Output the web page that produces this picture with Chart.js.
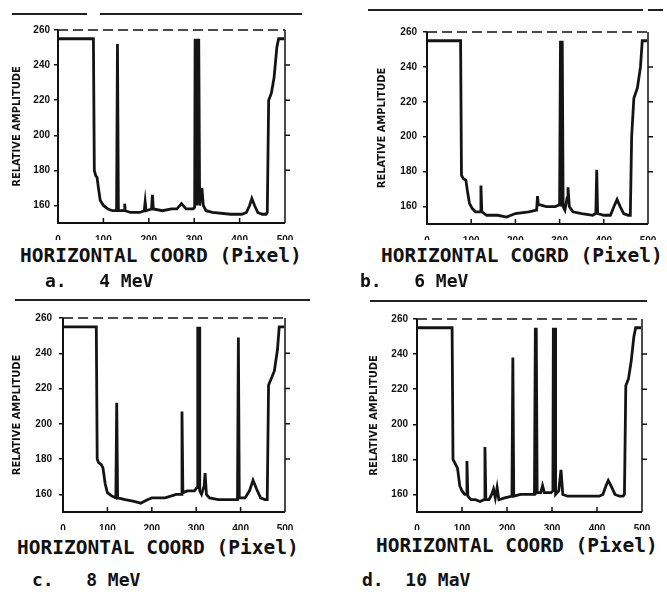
<!DOCTYPE html>
<html>
<head>
<meta charset="utf-8">
<script src="https://cdn.jsdelivr.net/npm/chart.js@4.4.1/dist/chart.umd.min.js"></script>
<style>
  body { margin: 0; background: #fff; }
  #page { position: relative; width: 667px; height: 594px; overflow: hidden; }
  .panel { position: absolute; }
  .txt { position: absolute; font: bold 18px 'DejaVu Sans Mono', monospace; line-height: 18px; white-space: pre; color: #111; }
  .axt { font-size: 19.5px; line-height: 19.5px; }
  .rule { position: absolute; height: 2px; background: #222; }
</style>
</head>
<body>
<div id="page">
  <div class="rule" style="left:12px;top:13px;width:75px"></div>
  <div class="rule" style="left:100px;top:13px;width:202px"></div>
  <div class="rule" style="left:368px;top:9px;width:275px"></div>
  <div class="rule" style="left:648px;top:9px;width:15px"></div>
  <div class="rule" style="left:15px;top:299px;width:295px"></div>
  <div class="rule" style="left:370px;top:300px;width:277px"></div>

  <canvas id="mev4" class="panel" width="333" height="240" style="left:0;top:0"></canvas>
  <canvas id="mev6" class="panel" width="333" height="240" style="left:334px;top:0"></canvas>
  <canvas id="mev8" class="panel" width="333" height="240" style="left:0;top:290px"></canvas>
  <canvas id="mev10" class="panel" width="333" height="240" style="left:334px;top:290px"></canvas>

  <div class="txt axt" style="left:20px;top:246px">HORIZONTAL COORD (Pixel)</div>
  <div class="txt axt" style="left:381px;top:246px">HORIZONTAL COGRD (Pixel)</div>
  <div class="txt axt" style="left:17px;top:538px">HORIZONTAL COORD (Pixel)</div>
  <div class="txt axt" style="left:376px;top:536px">HORIZONTAL COORD (Pixel)</div>

  <div class="txt" style="left:45px;top:272px">a.   4 MeV</div>
  <div class="txt" style="left:360px;top:272px">b.   6 MeV</div>
  <div class="txt" style="left:32px;top:571px">c.   8 MeV</div>
  <div class="txt" style="left:362px;top:571px">d.  10 MaV</div>
</div>
<script>
const yTicks = [160, 180, 200, 220, 240, 260];
const xTicks = [0, 100, 200, 300, 400, 500];

// a. 4 MeV
const x4 = [0, 78, 80, 83, 86, 89, 93, 100, 110, 120, 129, 131, 133, 140, 146, 147, 148, 160, 180, 190, 192, 194, 206, 208, 210, 230, 250, 262, 272, 282, 298, 301, 302, 303, 304, 305, 306, 307, 308, 309, 310, 312, 315, 317, 320, 326, 340, 380, 405, 415, 422, 427, 433, 440, 450, 458, 461, 464, 470, 476, 482, 486, 498];
const y4 = [255, 255, 180, 177, 176, 170, 163, 160, 158, 157, 157, 252, 157, 157, 157, 161, 157, 156, 156, 157, 162, 157, 158, 166, 158, 157, 158, 158, 161, 158, 158, 159, 255, 160, 255, 160, 255, 162, 255, 165, 255, 160, 166, 170, 160, 157, 156, 155, 155, 156, 160, 164, 160, 156, 155, 155, 156, 220, 224, 233, 250, 255, 255];

// b. 6 MeV
const x6 = [0, 76, 78, 82, 88, 92, 96, 102, 110, 120, 122, 124, 135, 160, 180, 200, 230, 248, 250, 252, 256, 270, 290, 300, 302, 304, 306, 308, 312, 317, 319, 322, 330, 350, 375, 382, 384, 386, 400, 415, 423, 430, 437, 445, 455, 460, 463, 468, 476, 483, 487, 498];
const y6 = [255, 255, 178, 176, 175, 168, 162, 159, 157, 157, 172, 157, 155, 155, 154, 156, 157, 158, 166, 161, 161, 160, 160, 161, 255, 160, 255, 160, 158, 165, 171, 160, 157, 156, 155, 156, 181, 156, 155, 155, 160, 164, 160, 156, 155, 155, 200, 222, 228, 240, 255, 255];

// c. 8 MeV
const x8 = [0, 75, 77, 80, 86, 90, 95, 100, 110, 119, 121, 123, 140, 160, 175, 190, 200, 230, 255, 266, 268, 270, 280, 296, 302, 303, 304, 305, 306, 307, 308, 312, 318, 320, 323, 330, 350, 380, 393, 395, 397, 410, 420, 428, 436, 445, 455, 460, 463, 468, 476, 483, 487, 498];
const y8 = [255, 255, 180, 178, 177, 175, 166, 161, 159, 158, 212, 158, 157, 156, 155, 157, 158, 158, 160, 160, 207, 161, 162, 162, 164, 255, 164, 255, 163, 255, 162, 160, 165, 172, 160, 158, 157, 157, 157, 249, 158, 158, 162, 168, 163, 158, 157, 157, 222, 225, 230, 242, 255, 255];

// d. 10 MeV
const x10 = [0, 78, 80, 84, 90, 95, 100, 106, 109, 111, 113, 120, 130, 140, 149, 151, 153, 160, 166, 170, 174, 178, 182, 195, 211, 213, 215, 230, 255, 261, 263, 264, 265, 267, 275, 279, 283, 298, 302, 303, 304, 305, 306, 307, 308, 315, 320, 324, 335, 370, 405, 413, 420, 425, 431, 440, 450, 458, 461, 464, 470, 476, 482, 486, 498];
const y10 = [255, 255, 180, 178, 175, 165, 162, 160, 160, 179, 159, 157, 157, 156, 157, 187, 157, 157, 160, 163, 158, 164, 157, 158, 159, 238, 159, 160, 160, 160, 255, 160, 255, 161, 161, 165, 161, 161, 162, 255, 162, 255, 162, 255, 160, 162, 174, 160, 159, 159, 159, 160, 165, 168, 165, 160, 159, 159, 160, 222, 226, 236, 250, 255, 255];

// box around the plot, inward ticks at the bottom, outward on the right
const frame = {
    id: 'frame',
    afterDraw(chart) {
        const {ctx, chartArea: a, scales} = chart;
        ctx.save();
        ctx.strokeStyle = '#111';
        ctx.lineWidth = 2;
        ctx.beginPath();
        ctx.moveTo(a.left, a.top);
        ctx.lineTo(a.left, a.bottom);
        ctx.lineTo(a.right, a.bottom);
        ctx.stroke();
        ctx.lineWidth = 1.5;
        ctx.beginPath();
        ctx.moveTo(a.right, a.bottom);
        ctx.lineTo(a.right, a.top);
        xTicks.slice(1, -1).forEach(v => {
            const px = scales.x.getPixelForValue(v);
            ctx.moveTo(px, a.bottom);
            ctx.lineTo(px, a.bottom - 5);
        });
        yTicks.slice(1, -1).forEach(v => {
            const py = scales.y.getPixelForValue(v);
            ctx.moveTo(a.right, py);
            ctx.lineTo(a.right + 5, py);
        });
        ctx.stroke();
        ctx.setLineDash([10, 5]);
        ctx.beginPath();
        ctx.moveTo(a.left, a.top);
        ctx.lineTo(a.right, a.top);
        ctx.stroke();
        ctx.restore();
    }
};

const tickFont = { family: "'Liberation Sans', Arial, sans-serif", weight: 'bold', size: 10 };

const makeChart = (id, xs, ys, box) => {
    new Chart(document.getElementById(id), {
        type: 'line',
        data: {
            datasets: [{
                data: xs.map((x, i) => ({ x: x, y: ys[i] })),
                borderColor: '#141414',
                borderWidth: 2.8,
                pointRadius: 0,
                tension: 0
            }]
        },
        options: {
            responsive: false,
            animation: false,
            layout: { padding: { top: box.top, right: box.right, bottom: 0, left: 0 } },
            plugins: { legend: { display: false }, tooltip: { enabled: false } },
            scales: {
                x: {
                    type: 'linear',
                    min: 0,
                    max: 500,
                    afterBuildTicks: s => { s.ticks = xTicks.map(v => ({ value: v })); },
                    afterFit: s => { s.height = box.xh; },
                    grid: { display: false },
                    border: { display: false },
                    ticks: { padding: 3, maxRotation: 0, color: '#111', font: tickFont }
                },
                y: {
                    min: 150,
                    max: 260,
                    afterBuildTicks: s => { s.ticks = yTicks.map(v => ({ value: v })); },
                    afterFit: s => { s.width = box.left; },
                    grid: { drawOnChartArea: false, tickLength: 4, color: '#111', lineWidth: 1.5 },
                    border: { display: false },
                    ticks: { padding: box.tp, color: '#111', font: tickFont },
                    title: {
                        display: true,
                        text: 'RELATIVE AMPLITUDE',
                        color: '#111',
                        padding: { top: box.tt, bottom: 0 },
                        font: { family: "'DejaVu Sans Condensed', 'Liberation Sans Narrow', sans-serif", weight: 'bold', size: 11 }
                    }
                }
            }
        },
        plugins: [frame]
    });
};

makeChart('mev4', x4, y4, { left: 58, top: 30, right: 48, xh: 17, tp: 4, tt: 11 });
makeChart('mev6', x6, y6, { left: 93, top: 32, right: 19, xh: 16, tp: 6, tt: 42 });
makeChart('mev8', x8, y8, { left: 63, top: 28, right: 48, xh: 18, tp: 7, tt: 11 });
makeChart('mev10', x10, y10, { left: 83, top: 29, right: 25, xh: 18, tp: 5, tt: 34 });
</script>
</body>
</html>
